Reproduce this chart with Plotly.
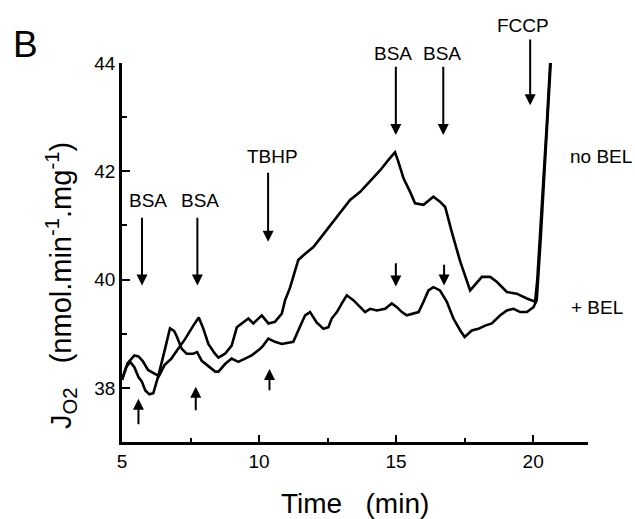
import plotly.graph_objects as go

# ---- data (time in min, J_O2 in nmol.min-1.mg-1) ----
t_nobel = [5.0, 5.2, 5.45, 5.6, 5.75, 5.95, 6.2, 6.35, 6.55, 6.8, 7.05, 7.3, 7.6, 7.8,
           7.97, 8.15, 8.39, 8.52, 8.76, 9.0, 9.19, 9.43, 9.61, 9.79, 10.1, 10.34, 10.58,
           10.83, 10.95, 11.13, 11.43, 11.62, 11.98, 12.23, 12.59, 13.02, 13.32, 13.69,
           14.05, 14.42, 14.72, 14.96, 15.08, 15.27, 15.51, 15.69, 16.0, 16.36, 16.6,
           16.79, 17.03, 17.34, 17.7, 17.88, 18.13, 18.43, 18.67, 19.04, 19.4, 19.77,
           20.07, 20.15, 20.25, 20.35, 20.5, 20.62]
j_nobel = [38.15, 38.45, 38.6, 38.58, 38.5, 38.33, 38.26, 38.22, 38.42, 38.54, 38.72,
           38.9, 39.15, 39.3, 39.09, 38.81, 38.63, 38.56, 38.63, 38.78, 39.12, 39.22,
           39.28, 39.19, 39.34, 39.19, 39.22, 39.37, 39.62, 39.85, 40.36, 40.45, 40.6,
           40.76, 41.0, 41.28, 41.47, 41.62, 41.81, 42.02, 42.21, 42.35, 42.18, 41.87,
           41.62, 41.41, 41.38, 41.53, 41.44, 41.34, 40.88, 40.33, 39.8, 39.9, 40.05,
           40.05, 39.96, 39.77, 39.74, 39.65, 39.59, 40.0, 40.8, 41.7, 42.9, 44.0]

t_bel = [5.0, 5.15, 5.3, 5.45, 5.6, 5.72, 5.85, 6.0, 6.14, 6.33, 6.57, 6.75, 6.9, 7.0,
         7.18, 7.36, 7.6, 7.74, 7.91, 8.15, 8.4, 8.52, 8.76, 9.0, 9.24, 9.49, 9.73,
         10.04, 10.15, 10.34, 10.58, 10.83, 11.1, 11.25, 11.43, 11.68, 11.86, 12.1,
         12.35, 12.53, 12.65, 12.84, 13.02, 13.2, 13.44, 13.69, 13.87, 14.05, 14.3,
         14.6, 14.84, 15.03, 15.21, 15.39, 15.63, 15.82, 16.0, 16.18, 16.36, 16.6,
         16.85, 17.09, 17.34, 17.5, 17.76, 18.0, 18.25, 18.49, 18.8, 19.04, 19.28,
         19.53, 19.77, 20.01, 20.13, 20.2, 20.28, 20.38, 20.52, 20.64]
j_bel = [38.15, 38.38, 38.48, 38.38, 38.2, 38.12, 37.95, 37.88, 37.9, 38.23, 38.72,
         39.1, 39.05, 38.95, 38.72, 38.63, 38.63, 38.66, 38.5, 38.4, 38.3, 38.3, 38.44,
         38.54, 38.48, 38.54, 38.6, 38.72, 38.78, 38.91, 38.85, 38.81, 38.84, 38.85,
         39.06, 39.34, 39.4, 39.21, 39.09, 39.12, 39.28, 39.4, 39.56, 39.71, 39.62,
         39.49, 39.4, 39.46, 39.43, 39.46, 39.56, 39.49, 39.4, 39.34, 39.37, 39.4,
         39.59, 39.8, 39.86, 39.8, 39.59, 39.28, 39.06, 38.94, 39.06, 39.09, 39.15,
         39.19, 39.34, 39.43, 39.46, 39.4, 39.4, 39.49, 39.62, 40.1, 40.8, 41.7, 42.9,
         44.0]

# long labelled arrows (additions)
add_labels = ["BSA", "BSA", "TBHP", "BSA", "BSA", "FCCP"]
add_x = [5.73, 7.75, 10.33, 14.99, 16.72, 19.89]
add_tail = [41.17, 41.17, 42.0, 43.96, 43.96, 44.46]
add_tip = [39.89, 39.89, 40.7, 42.67, 42.67, 43.22]
label_px = [0.056, 0.167, 0.322, 0.582, 0.687, 0.861]
label_py = [0.636, 0.636, 0.752, 1.026, 1.026, 1.100]

# short unlabelled down arrows (no BEL trace)
sd_x = [14.99, 16.75]
sd_tail = [40.33, 40.30]
sd_tip = [39.87, 39.89]
# short up arrows (+ BEL trace)
su_x = [5.6, 7.69, 10.38]
su_tail = [37.3, 37.56, 37.93]
su_tip = [37.8, 38.02, 38.35]

FONT = "Arial, Liberation Sans, sans-serif"


def label(x, y, text, size, **kw):
    d = dict(x=x, y=y, xref="paper", yref="paper", text=text, showarrow=False,
             xanchor="center", yanchor="middle",
             font=dict(size=size, color="black", family=FONT))
    d.update(kw)
    return d


def arrow(x, y0, y1):
    return dict(x=x, y=y1, ax=x, ay=y0, xref="x", yref="y", axref="x", ayref="y",
                text="", showarrow=True, arrowhead=2, arrowsize=1.1, arrowwidth=2,
                arrowcolor="black")


fig = go.Figure()
fig.add_trace(go.Scatter(x=t_nobel, y=j_nobel, mode="lines",
                         line=dict(color="black", width=2.6), showlegend=False))
fig.add_trace(go.Scatter(x=t_bel, y=j_bel, mode="lines",
                         line=dict(color="black", width=2.6), showlegend=False))

ann = []
for x, y0, y1 in zip(add_x, add_tail, add_tip):
    ann.append(arrow(x, y0, y1))
for x, y0, y1 in zip(sd_x, sd_tail, sd_tip):
    ann.append(arrow(x, y0, y1))
for x, y0, y1 in zip(su_x, su_tail, su_tip):
    ann.append(arrow(x, y0, y1))
for lab, px, py in zip(add_labels, label_px, label_py):
    ann.append(label(px, py, lab, 19))

ann.append(label(1.028, 0.752, "no BEL", 19))
ann.append(label(1.019, 0.354, "+ BEL", 19))
ann.append(label(-0.208, 1.05, "B", 37))
ann.append(label(0.5, -0.161, "Time   (min)", 28))
ann.append(label(-0.131, 0.414,
                 "J<sub>O2</sub>   (nmol.min<sup>-1</sup>.mg<sup>-1</sup>)", 29,
                 textangle=-90))

fig.update_layout(
    width=635, height=519,
    margin=dict(l=122, r=47, t=63, b=77),
    paper_bgcolor="white", plot_bgcolor="white",
    font=dict(family=FONT, color="black"),
    annotations=ann,
    showlegend=False,
)
fig.update_xaxes(range=[5, 22], tick0=5, dtick=5, ticks="inside", ticklen=7, tickwidth=2,
                 tickcolor="black", showline=True, linecolor="black", linewidth=2.5,
                 showgrid=False, zeroline=False, tickfont=dict(size=19, family=FONT),
                 minor=dict(tick0=5, dtick=2.5, ticks="inside", ticklen=4, tickwidth=2,
                            tickcolor="black", showgrid=False))
fig.update_yaxes(range=[37, 44], tick0=0, dtick=2, ticks="inside", ticklen=8, tickwidth=2,
                 tickcolor="black", showline=True, linecolor="black", linewidth=2.5,
                 showgrid=False, zeroline=False, tickfont=dict(size=19, family=FONT),
                 minor=dict(tick0=0, dtick=1, ticks="inside", ticklen=5, tickwidth=2,
                            tickcolor="black", showgrid=False))

fig.write_html(
    "out.html",
    config={"displayModeBar": False},
    post_script="document.body.style.margin='0px';document.body.style.overflow='hidden';",
)
